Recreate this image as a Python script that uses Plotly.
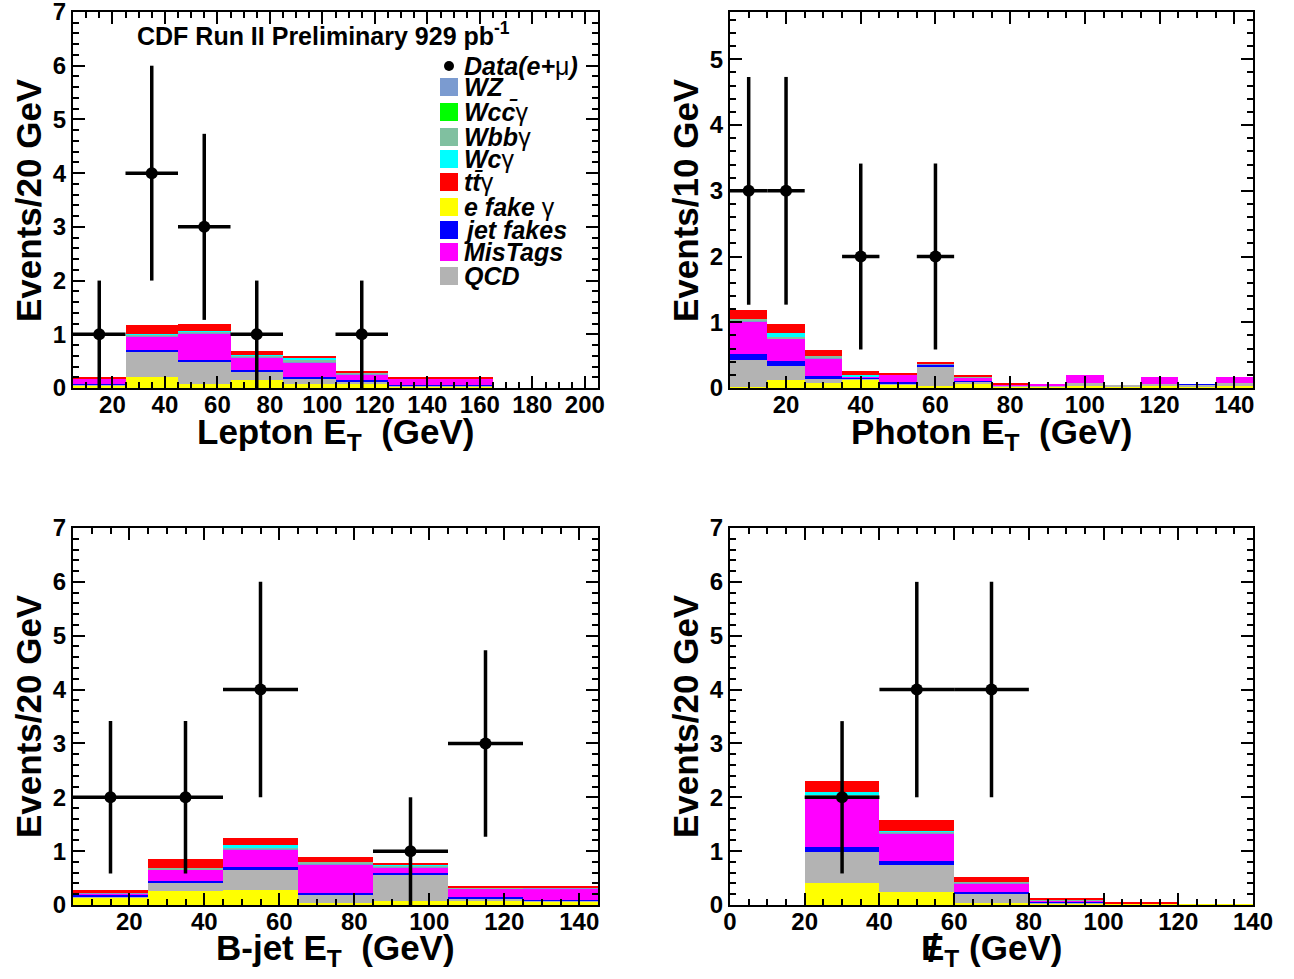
import numpy as np
import plotly.graph_objects as go

W, H = 1294, 979

# ---------------- data ----------------
components = ["efake", "qcd", "jet", "mis", "wz", "wcc", "wbb", "wc", "tt"]  # stack order bottom->top
colors = {
    "wz": "#7b9bd0", "wcc": "#00ff00", "wbb": "#80c0a0", "wc": "#00ffff",
    "tt": "#ff0000", "efake": "#ffff00", "jet": "#0000ff", "mis": "#ff00ff", "qcd": "#b3b3b3",
}

# Lepton E_T (bins of 20 GeV from 5)
lep_centers = [15, 35, 55, 75, 95, 115, 135, 155, 175, 195]
lep_efake = [0.05, 0.20, 0.08, 0.15, 0.08, 0.07, 0.02, 0.02, 0, 0]
lep_qcd   = [0.02, 0.48, 0.41, 0.15, 0.10, 0.05, 0.02, 0.02, 0, 0]
lep_jet   = [0.01, 0.03, 0.03, 0.03, 0.02, 0.02, 0.01, 0.01, 0, 0]
lep_mis   = [0.08, 0.25, 0.50, 0.24, 0.28, 0.12, 0.12, 0.12, 0, 0]
lep_wz    = [0, 0.01, 0.01, 0.01, 0.02, 0.01, 0, 0.01, 0, 0]
lep_wcc   = [0, 0.01, 0, 0, 0, 0, 0, 0, 0, 0]
lep_wbb   = [0, 0.02, 0.02, 0.02, 0.02, 0.01, 0, 0, 0, 0]
lep_wc    = [0, 0.01, 0.02, 0.01, 0.04, 0, 0, 0, 0, 0]
lep_tt    = [0.05, 0.17, 0.12, 0.08, 0.02, 0.02, 0.02, 0.01, 0, 0]
lep_data_x = [15, 35, 55, 75, 115]
lep_data_n = [1, 4, 3, 1, 1]

# Photon E_T (bins of 10 GeV from 5)
pho_centers = [10, 20, 30, 40, 50, 60, 70, 80, 90, 100, 110, 120, 130, 140]
pho_efake = [0.01, 0.12, 0.07, 0.13, 0.06, 0.03, 0.07, 0.03, 0.03, 0.04, 0.03, 0.04, 0.03, 0.03]
pho_qcd   = [0.42, 0.22, 0.08, 0.01, 0.01, 0.30, 0.03, 0.01, 0.01, 0.03, 0.01, 0.02, 0.02, 0.05]
pho_jet   = [0.09, 0.07, 0.03, 0.02, 0.02, 0.02, 0.01, 0, 0, 0, 0, 0, 0.005, 0]
pho_mis   = [0.49, 0.34, 0.27, 0.01, 0.11, 0.01, 0.05, 0.02, 0.01, 0.13, 0, 0.10, 0, 0.09]
pho_wz    = [0.01, 0.01, 0.01, 0, 0, 0.01, 0, 0, 0, 0, 0, 0, 0, 0]
pho_wcc   = [0.01, 0, 0, 0, 0, 0, 0, 0, 0, 0, 0, 0, 0, 0]
pho_wbb   = [0.02, 0.02, 0.03, 0, 0, 0, 0.02, 0, 0, 0, 0, 0, 0, 0]
pho_wc    = [0, 0.05, 0, 0.03, 0, 0, 0, 0, 0, 0, 0, 0, 0, 0]
pho_tt    = [0.14, 0.15, 0.09, 0.06, 0.02, 0.02, 0.02, 0.01, 0, 0, 0, 0, 0, 0]
pho_data_x = [10, 20, 40, 60]
pho_data_n = [3, 3, 2, 2]

# B-jet E_T (bins of 20 GeV from 5)
bjet_centers = [15, 35, 55, 75, 95, 115, 135]
bjet_efake = [0.14, 0.26, 0.28, 0.04, 0.07, 0.07, 0.06]
bjet_qcd   = [0.02, 0.15, 0.37, 0.15, 0.49, 0.05, 0.02]
bjet_jet   = [0.03, 0.03, 0.05, 0.04, 0.04, 0.03, 0.02]
bjet_mis   = [0.02, 0.21, 0.33, 0.53, 0.10, 0.16, 0.20]
bjet_wz    = [0.01, 0.01, 0.01, 0.01, 0.01, 0, 0.02]
bjet_wcc   = [0, 0, 0, 0, 0, 0, 0]
bjet_wbb   = [0, 0.03, 0.02, 0.03, 0.02, 0.01, 0]
bjet_wc    = [0, 0, 0.05, 0, 0.01, 0, 0]
bjet_tt    = [0.05, 0.16, 0.14, 0.10, 0.04, 0.02, 0.02]
bjet_data_x = [15, 35, 55, 95, 115]
bjet_data_n = [2, 2, 4, 1, 3]

# Missing E_T (bins of 20 GeV from 0)
met_centers = [10, 30, 50, 70, 90, 110, 130]
met_efake = [0, 0.41, 0.25, 0.04, 0.02, 0.02, 0.01]
met_qcd   = [0, 0.58, 0.50, 0.16, 0.02, 0.01, 0]
met_jet   = [0, 0.09, 0.06, 0.05, 0.01, 0, 0]
met_mis   = [0, 0.90, 0.52, 0.15, 0.04, 0, 0]
met_wz    = [0, 0.01, 0.01, 0.01, 0, 0, 0]
met_wcc   = [0, 0.02, 0, 0, 0, 0, 0]
met_wbb   = [0, 0.04, 0.03, 0.02, 0.01, 0, 0]
met_wc    = [0, 0.05, 0.01, 0, 0, 0, 0]
met_tt    = [0, 0.20, 0.19, 0.09, 0.02, 0.01, 0]
met_data_x = [30, 50, 70]
met_data_n = [2, 4, 4]

panels = [
    dict(ax="", centers=lep_centers, bw=20,
         stack=dict(efake=lep_efake, qcd=lep_qcd, jet=lep_jet, mis=lep_mis, wz=lep_wz,
                    wcc=lep_wcc, wbb=lep_wbb, wc=lep_wc, tt=lep_tt),
         dx=lep_data_x, dn=lep_data_n, xr=[5, 205], yr=[0, 7], xt=list(range(20, 201, 20))),
    dict(ax="2", centers=pho_centers, bw=10,
         stack=dict(efake=pho_efake, qcd=pho_qcd, jet=pho_jet, mis=pho_mis, wz=pho_wz,
                    wcc=pho_wcc, wbb=pho_wbb, wc=pho_wc, tt=pho_tt),
         dx=pho_data_x, dn=pho_data_n, xr=[5, 145], yr=[0, 5.72], xt=list(range(20, 141, 20))),
    dict(ax="3", centers=bjet_centers, bw=20,
         stack=dict(efake=bjet_efake, qcd=bjet_qcd, jet=bjet_jet, mis=bjet_mis, wz=bjet_wz,
                    wcc=bjet_wcc, wbb=bjet_wbb, wc=bjet_wc, tt=bjet_tt),
         dx=bjet_data_x, dn=bjet_data_n, xr=[5, 145], yr=[0, 7], xt=list(range(20, 141, 20))),
    dict(ax="4", centers=met_centers, bw=20,
         stack=dict(efake=met_efake, qcd=met_qcd, jet=met_jet, mis=met_mis, wz=met_wz,
                    wcc=met_wcc, wbb=met_wbb, wc=met_wc, tt=met_tt),
         dx=met_data_x, dn=met_data_n, xr=[0, 140], yr=[0, 7], xt=list(range(0, 141, 20))),
]

# plot-area pixel boxes (left, right, top, bottom)
boxes = [(73, 598, 12, 388), (730, 1253, 12, 388), (73, 598, 528, 905), (730, 1253, 528, 905)]

def px(x):
    return x / W

def py(y):
    return 1 - y / H

FONT = "Liberation Sans, Arial, Helvetica, sans-serif"

fig = go.Figure()
for p in panels:
    xa, ya = "x" + p["ax"], "y" + p["ax"]
    for c in components:
        fig.add_trace(go.Bar(x=p["centers"], y=p["stack"][c], width=p["bw"],
                             marker=dict(color=colors[c], line=dict(width=0)),
                             xaxis=xa, yaxis=ya, showlegend=False, hoverinfo="skip"))
    fig.add_trace(go.Scatter(x=p["dx"], y=p["dn"], mode="markers",
                             marker=dict(size=12, color="black"),
                             error_y=dict(type="data", array=list(np.sqrt(p["dn"])),
                                          thickness=3.5, width=0, color="black"),
                             error_x=dict(type="data", array=[p["bw"] / 2] * len(p["dx"]),
                                          thickness=3.5, width=0, color="black"),
                             xaxis=xa, yaxis=ya, showlegend=False, cliponaxis=False))

layout = dict(width=W, height=H, margin=dict(l=0, r=0, t=0, b=0, pad=0, autoexpand=False),
              paper_bgcolor="white", plot_bgcolor="white", barmode="stack",
              showlegend=False)

tickfont = dict(family=FONT, size=24, color="black", weight="bold")
for p, (l, r, t, b) in zip(panels, boxes):
    k = p["ax"]
    layout["xaxis" + k] = dict(domain=[px(l), px(r)], range=p["xr"], anchor="y" + k,
                               tickvals=p["xt"], ticks="inside", ticklen=12, tickwidth=2,
                               tickcolor="black", showline=True, linewidth=2, linecolor="black",
                               mirror="ticks", showgrid=False, zeroline=False, tickfont=tickfont,
                               automargin=False, ticklabeloverflow="allow", ticklabelstandoff=-6,
                               minor=dict(ticks="inside", ticklen=6, tickwidth=2, tickcolor="black",
                                          dtick=5, tick0=0, showgrid=False))
    yt = list(range(0, int(np.floor(p["yr"][1])) + 1))
    layout["yaxis" + k] = dict(domain=[py(b), py(t)], range=p["yr"], anchor="x" + k,
                               tickvals=yt, ticks="inside", ticklen=12, tickwidth=2,
                               tickcolor="black", showline=True, linewidth=2, linecolor="black",
                               mirror="ticks", showgrid=False, zeroline=False, tickfont=tickfont,
                               automargin=False, ticklabeloverflow="allow",
                               minor=dict(ticks="inside", ticklen=6, tickwidth=2, tickcolor="black",
                                          dtick=0.2, tick0=0, showgrid=False))

annotations = []
shapes = []

def ann(text, x, y, size=35, xanchor="center", yanchor="middle", angle=0):
    annotations.append(dict(text=text, x=px(x), y=py(y), xref="paper", yref="paper",
                            showarrow=False, xanchor=xanchor, yanchor=yanchor, textangle=angle,
                            font=dict(family=FONT, size=size, color="black")))

ann("<b>Lepton E<sub>T</sub>  (GeV)</b>", 335, 434)
ann("<b>Photon E<sub>T</sub>  (GeV)</b>", 991, 434)
ann("<b>B-jet E<sub>T</sub>  (GeV)</b>", 335, 950)
ann("<b>E<sub>T</sub> (GeV)</b>", 991, 950)
ann("<b>/</b>", 933, 948, size=38)
ann("<b>Events/20 GeV</b>", 28, 200, angle=-90)
ann("<b>Events/10 GeV</b>", 685, 200, angle=-90)
ann("<b>Events/20 GeV</b>", 28, 716, angle=-90)
ann("<b>Events/20 GeV</b>", 685, 716, angle=-90)
ann("<b>CDF Run II Preliminary 929 pb<sup>-1</sup></b>", 135, 34, size=25, xanchor="left")

# legend (manual, ROOT style)
legend_items = [
    ("wz", "<b><i>WZ</i></b>", 87),
    ("wcc", "<b><i>Wcc\u0304</i></b>γ", 112),
    ("wbb", "<b><i>Wbb</i></b>γ", 137),
    ("wc", "<b><i>Wc</i></b>γ", 159),
    ("tt", "<b><i>tt\u0304</i></b>γ", 182),
    ("efake", "<b><i>e fake </i></b>γ", 207),
    ("jet", "<b><i>jet fakes</i></b>", 230),
    ("mis", "<b><i>MisTags</i></b>", 252),
    ("qcd", "<b><i>QCD</i></b>", 276),
]
ann("<b><i>Data(e+</i></b>μ<b><i>)</i></b>", 462, 66, size=25, xanchor="left")
shapes.append(dict(type="circle", xref="paper", yref="paper", x0=px(444), x1=px(454),
                   y0=py(71), y1=py(61), fillcolor="black", line=dict(width=0)))
for c, label, yc in legend_items:
    shapes.append(dict(type="rect", xref="paper", yref="paper", x0=px(440), x1=px(458),
                       y0=py(yc + 9), y1=py(yc - 9), fillcolor=colors[c], line=dict(width=0)))
    ann(label, 462, yc, size=25, xanchor="left")

layout["annotations"] = annotations
layout["shapes"] = shapes
fig.update_layout(**layout)
fig.write_html("out.html", config={"displayModeBar": False},
               post_script="document.body.style.margin='0px';")
